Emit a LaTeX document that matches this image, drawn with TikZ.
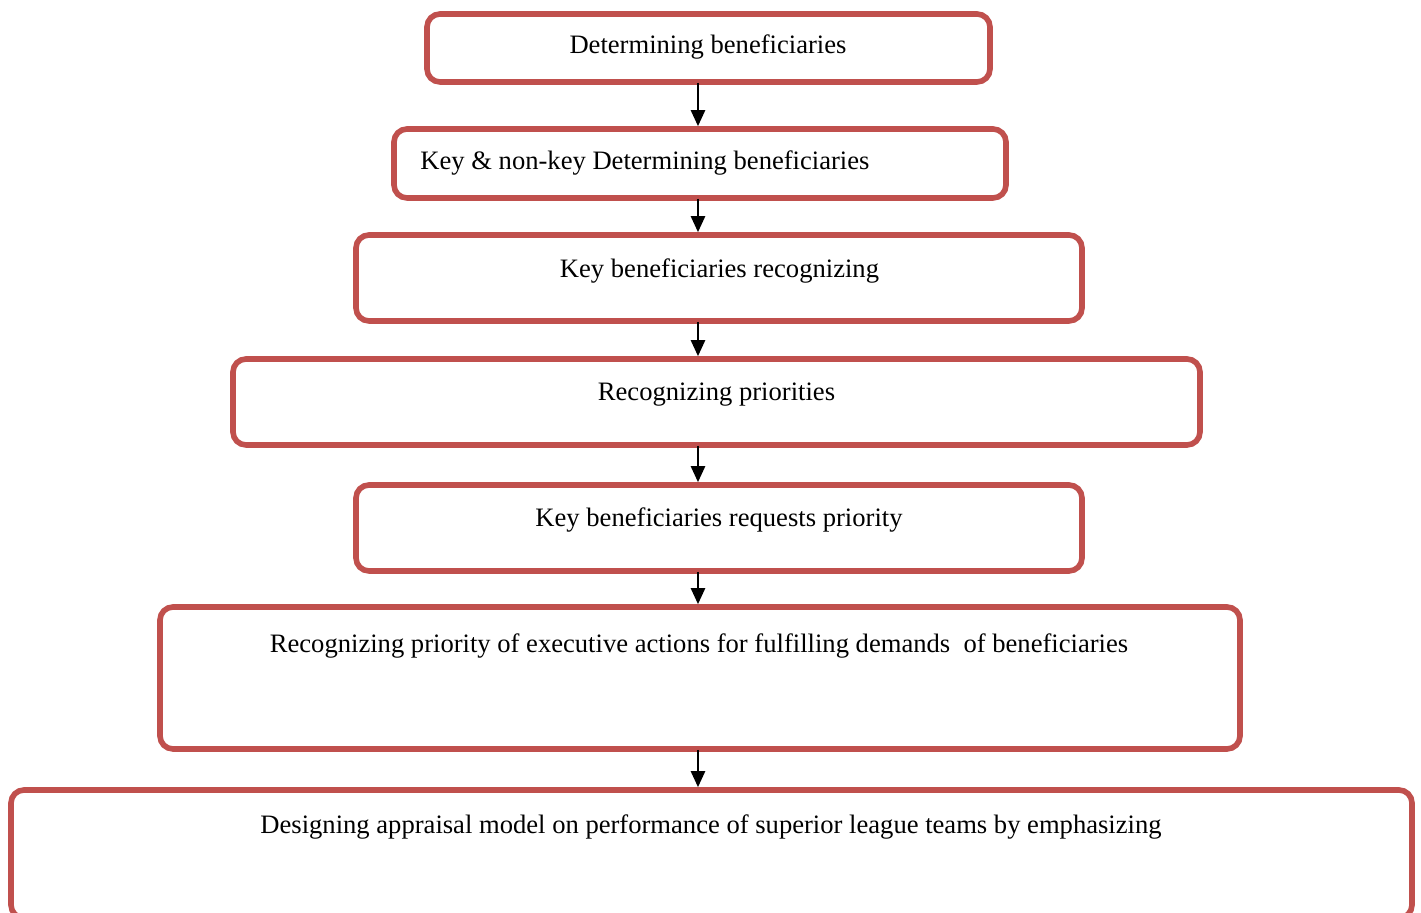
\documentclass[tikz,border=0pt]{standalone}
\usepackage{fontspec}
\setmainfont{Liberation Serif}
\usetikzlibrary{arrows.meta}
\definecolor{boxred}{HTML}{C0504D}
\begin{document}
\begin{tikzpicture}[x=0.5pt,y=-0.5pt,
  stage/.style={draw=boxred,line width=2.8pt,rounded corners=6.5pt,fill=white,inner sep=0pt},
  lbl/.style={anchor=base,inner sep=0pt,font=\fontsize{13.3}{16}\selectfont},
  flow/.style={-{Triangle[width=7pt,length=8pt]},line width=1.2pt,black,shorten <=-1pt}]
\useasboundingbox (0,0) rectangle (1421,913);
% stage boxes
\node[stage,minimum width=281.5pt,minimum height=34pt]   (b1) at (708.5,48)  {};
\node[stage,minimum width=306pt,minimum height=34.5pt]   (b2) at (700,163.5) {};
\node[stage,minimum width=363pt,minimum height=43pt]     (b3) at (719,278)   {};
\node[stage,minimum width=483.5pt,minimum height=43pt]   (b4) at (716.5,402) {};
\node[stage,minimum width=363pt,minimum height=43pt]     (b5) at (719,528)   {};
\node[stage,minimum width=540pt,minimum height=71pt]     (b6) at (700,678)   {};
\node[stage,minimum width=700.5pt,minimum height=64pt]   (b7) at (711.5,854) {};
% labels
\node[lbl] (t1) at (708,54) {Determining beneficiaries};
\node[lbl,anchor=base west] (t2) at (420,170) {Key \& non-key Determining beneficiaries};
\node[lbl] (t3) at (719.5,278) {Key beneficiaries recognizing};
\node[lbl] (t4) at (716.5,401) {Recognizing priorities};
\node[lbl] (t5) at (719,527) {Key beneficiaries requests priority};
\node[lbl] (t6) at (699,653) {Recognizing priority of executive actions for fulfilling demands\ \ of beneficiaries};
\node[lbl] (t7) at (711,834) {Designing appraisal model on performance of superior league teams by emphasizing};
% connectors
\coordinate (ax) at (698,0);
\draw[flow] (b1.south -| ax) -- (b2.north -| ax);
\draw[flow] (b2.south -| ax) -- (b3.north -| ax);
\draw[flow] (b3.south -| ax) -- (b4.north -| ax);
\draw[flow] (b4.south -| ax) -- (b5.north -| ax);
\draw[flow] (b5.south -| ax) -- (b6.north -| ax);
\draw[flow] (b6.south -| ax) -- (b7.north -| ax);
\end{tikzpicture}
\end{document}
